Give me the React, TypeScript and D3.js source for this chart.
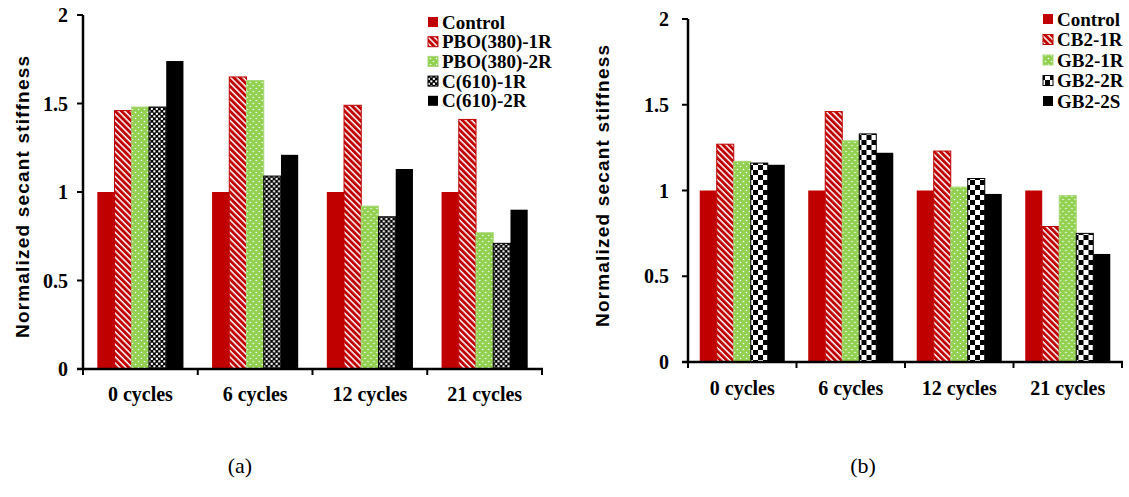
import React from "react";
import * as d3 from "d3";

// ---------- data ----------
const categories = ["0 cycles", "6 cycles", "12 cycles", "21 cycles"];
const yTicks = [0, 0.5, 1, 1.5, 2];

const seriesA = ["Control", "PBO(380)-1R", "PBO(380)-2R", "C(610)-1R", "C(610)-2R"];
const controlA = [1, 1, 1, 1];
const pbo380_1R = [1.46, 1.65, 1.49, 1.41];
const pbo380_2R = [1.48, 1.63, 0.92, 0.77];
const c610_1R = [1.48, 1.09, 0.86, 0.71];
const c610_2R = [1.74, 1.21, 1.13, 0.9];

const seriesB = ["Control", "CB2-1R", "GB2-1R", "GB2-2R", "GB2-2S"];
const controlB = [1, 1, 1, 1];
const cb2_1R = [1.27, 1.46, 1.23, 0.79];
const gb2_1R = [1.17, 1.29, 1.02, 0.97];
const gb2_2R = [1.16, 1.33, 1.07, 0.75];
const gb2_2S = [1.15, 1.22, 0.98, 0.63];

const panelLabels = ["(a)", "(b)"];
const yTitle = "Normalized secant stiffness";

const SERIF = "'Liberation Serif', 'Times New Roman', serif";
const SANS = "'Liberation Sans', Arial, sans-serif";
const RED = "#C00000";
const GREEN = "#92D050";

type PanelProps = {
  series: string[];
  values: number[][];
  xRange: [number, number];
  yZero: number;
  yTop: number;
  outerPad: number;
  checkId: string;
  tickLabelX: number;
  catLabelY: number;
  titleX: number;
  titleY: number;
  legendX: number;
  legendY0: number;
  legendStep: number;
  panelLabel: string;
  panelLabelX: number;
};

function Panel(p: PanelProps) {
  const x0 = d3.scaleBand<string>().domain(categories).range(p.xRange).paddingInner(0).paddingOuter(0);
  const x1 = d3
    .scaleBand<string>()
    .domain(p.series)
    .range([0, x0.bandwidth()])
    .paddingInner(0)
    .paddingOuter(p.outerPad);
  const y = d3.scaleLinear().domain([0, 2]).range([p.yZero, p.yTop]);
  const fills = [RED, "url(#hatch)", "url(#dots)", `url(#${p.checkId})`, "#000"];
  const strokes = ["none", RED, "#A8D878", "#000", "none"];
  const boundaries = [p.xRange[0], ...categories.map((c) => (x0(c) as number) + x0.bandwidth())];
  const axisX = p.xRange[0];

  return (
    <g>
      {categories.map((c, ci) => (
        <g key={c} transform={`translate(${x0(c)},0)`}>
          {p.series.map((s, si) => {
            const v = p.values[si][ci];
            return (
              <rect
                key={s}
                x={x1(s)}
                y={y(v)}
                width={x1.bandwidth()}
                height={y(0) - y(v)}
                fill={fills[si]}
                stroke={strokes[si]}
                strokeWidth={strokes[si] === "none" ? 0 : 1}
              />
            );
          })}
        </g>
      ))}
      <line x1={axisX} x2={axisX} y1={y(2)} y2={y(0)} stroke="#000" strokeWidth={2.5} />
      {yTicks.map((t) => (
        <g key={t}>
          <line x1={axisX - 6} x2={axisX} y1={y(t)} y2={y(t)} stroke="#000" strokeWidth={2} />
          <text
            x={p.tickLabelX}
            y={y(t)}
            textAnchor="end"
            dominantBaseline="central"
            fontFamily={SERIF}
            fontWeight="bold"
            fontSize={20}
            fill="#000"
          >
            {t}
          </text>
        </g>
      ))}
      <line x1={axisX - 6} x2={p.xRange[1] + 1} y1={y(0)} y2={y(0)} stroke="#000" strokeWidth={2.5} />
      {boundaries.map((b, i) => (
        <line key={i} x1={b} x2={b} y1={y(0)} y2={y(0) + 6} stroke="#000" strokeWidth={2} />
      ))}
      {categories.map((c) => (
        <text
          key={c}
          x={(x0(c) as number) + x0.bandwidth() / 2}
          y={p.catLabelY}
          textAnchor="middle"
          fontFamily={SERIF}
          fontWeight="bold"
          fontSize={20}
          fill="#000"
        >
          {c}
        </text>
      ))}
      <text
        transform={`translate(${p.titleX},${p.titleY}) rotate(-90)`}
        textAnchor="middle"
        dominantBaseline="central"
        fontFamily={SANS}
        fontWeight="bold"
        fontSize={19}
        textLength={282}
        lengthAdjust="spacing"
        fill="#000"
      >
        {yTitle}
      </text>
      {p.series.map((s, si) => {
        const cy = p.legendY0 + si * p.legendStep;
        return (
          <g key={s}>
            <rect
              x={p.legendX}
              y={cy - 5}
              width={10}
              height={10}
              fill={fills[si]}
              stroke={strokes[si]}
              strokeWidth={strokes[si] === "none" ? 0 : 1}
            />
            <text
              x={p.legendX + 14}
              y={cy}
              dominantBaseline="central"
              fontFamily={SERIF}
              fontWeight="bold"
              fontSize={19}
              fill="#000"
            >
              {s}
            </text>
          </g>
        );
      })}
      <text
        x={p.panelLabelX}
        y={465}
        textAnchor="middle"
        dominantBaseline="central"
        fontFamily={SERIF}
        fontSize={22}
        fill="#000"
      >
        {p.panelLabel}
      </text>
    </g>
  );
}

export default function App() {
  return (
    <svg
      width={1129}
      height={497}
      viewBox="0 0 1129 497"
      style={{ position: "absolute", left: 0, top: 0, background: "#fff" }}
    >
      <defs>
        <pattern id="hatch" patternUnits="userSpaceOnUse" width={4.4} height={4.4} patternTransform="rotate(-45)">
          <rect width={4.4} height={4.4} fill="#fff" />
          <rect width={2.9} height={4.4} fill={RED} />
        </pattern>
        <pattern id="dots" patternUnits="userSpaceOnUse" width={6} height={6}>
          <rect width={6} height={6} fill={GREEN} />
          <circle cx={1.5} cy={1.5} r={0.8} fill="#fff" />
          <circle cx={4.5} cy={4.5} r={0.8} fill="#fff" />
        </pattern>
        <pattern id="checkA" patternUnits="userSpaceOnUse" width={5} height={5}>
          <rect width={5} height={5} fill="#000" />
          <rect x={0.3} y={0.3} width={2.1} height={2.1} fill="#fff" />
          <rect x={2.8} y={2.8} width={2.1} height={2.1} fill="#fff" />
        </pattern>
        <pattern id="checkB" patternUnits="userSpaceOnUse" width={10} height={10}>
          <rect width={10} height={10} fill="#000" />
          <rect x={0} y={0} width={5} height={5} fill="#fff" />
          <rect x={5} y={5} width={5} height={5} fill="#fff" />
        </pattern>
      </defs>
      <Panel
        series={seriesA}
        values={[controlA, pbo380_1R, pbo380_2R, c610_1R, c610_2R]}
        xRange={[83, 542]}
        yZero={369}
        yTop={15}
        outerPad={0.83}
        checkId="checkA"
        tickLabelX={68}
        catLabelY={401}
        titleX={22}
        titleY={197}
        legendX={428}
        legendY0={22}
        legendStep={19.7}
        panelLabel={panelLabels[0]}
        panelLabelX={240}
      />
      <Panel
        series={seriesB}
        values={[controlB, cb2_1R, gb2_1R, gb2_2R, gb2_2S]}
        xRange={[688, 1122]}
        yZero={362}
        yTop={19}
        outerPad={0.69}
        checkId="checkB"
        tickLabelX={669}
        catLabelY={395}
        titleX={602}
        titleY={186}
        legendX={1043}
        legendY0={19}
        legendStep={20.5}
        panelLabel={panelLabels[1]}
        panelLabelX={863}
      />
    </svg>
  );
}
